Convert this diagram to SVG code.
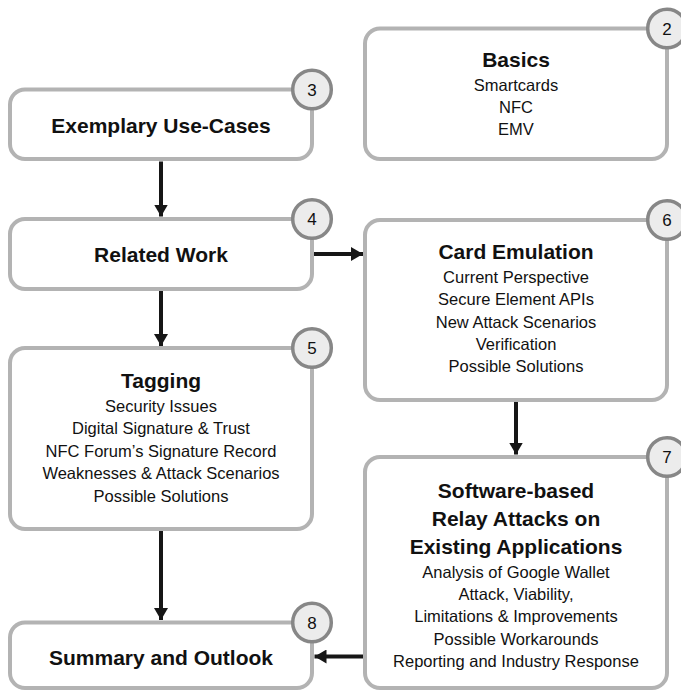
<svg xmlns="http://www.w3.org/2000/svg" width="681" height="690" viewBox="0 0 681 690">
  <style>
    .box { fill: #ffffff; stroke: #b3b3b3; stroke-width: 4; }
    .badge { fill: #ececec; stroke: #878787; stroke-width: 3.5; }
    .num { font-family: "Liberation Sans", Arial, sans-serif; font-size: 17px; fill: #111; text-anchor: middle; }
    .title { font-family: "Liberation Sans", Arial, sans-serif; font-size: 21px; font-weight: bold; fill: #111; text-anchor: middle; }
    .item { font-family: "Liberation Sans", Arial, sans-serif; font-size: 16.5px; fill: #111; text-anchor: middle; }
    .edge { stroke: #161616; stroke-width: 4; fill: none; }
  </style>
  <defs>
    <marker id="head" viewBox="0 0 12 14" refX="12" refY="7" markerUnits="userSpaceOnUse" markerWidth="12" markerHeight="14" orient="auto">
      <path d="M0,0 L12,7 L0,14 Z" fill="#161616"/>
    </marker>
  </defs>

  <!-- chapter 2 -->
  <g id="basics">
    <rect class="box" x="365" y="28.5" width="302" height="130.5" rx="15"/>
    <text class="title" x="516" y="67">Basics</text>
    <text class="item" x="516" y="91">Smartcards</text>
    <text class="item" x="516" y="113">NFC</text>
    <text class="item" x="516" y="135">EMV</text>
    <circle class="badge" cx="667" cy="28.5" r="19.3"/>
    <text class="num" x="667" y="34.5">2</text>
  </g>

  <!-- chapter 3 -->
  <g id="use-cases">
    <rect class="box" x="10" y="89.5" width="302" height="69.5" rx="15"/>
    <text class="title" x="161" y="132.5">Exemplary Use-Cases</text>
    <circle class="badge" cx="312" cy="89.5" r="19.3"/>
    <text class="num" x="312" y="95.5">3</text>
  </g>

  <!-- chapter 4 -->
  <g id="related-work">
    <rect class="box" x="10" y="219" width="302" height="70" rx="15"/>
    <text class="title" x="161" y="261.5">Related Work</text>
    <circle class="badge" cx="312" cy="219" r="19.3"/>
    <text class="num" x="312" y="225">4</text>
  </g>

  <!-- chapter 6 -->
  <g id="card-emulation">
    <rect class="box" x="365" y="220" width="302" height="180" rx="15"/>
    <text class="title" x="516" y="259">Card Emulation</text>
    <text class="item" x="516" y="283">Current Perspective</text>
    <text class="item" x="516" y="305">Secure Element APIs</text>
    <text class="item" x="516" y="327.5">New Attack Scenarios</text>
    <text class="item" x="516" y="350">Verification</text>
    <text class="item" x="516" y="372">Possible Solutions</text>
    <circle class="badge" cx="667" cy="220" r="19.3"/>
    <text class="num" x="667" y="226">6</text>
  </g>

  <!-- chapter 5 -->
  <g id="tagging">
    <rect class="box" x="10" y="348" width="302" height="181" rx="15"/>
    <text class="title" x="161" y="387.5">Tagging</text>
    <text class="item" x="161" y="411.5">Security Issues</text>
    <text class="item" x="161" y="434">Digital Signature &amp; Trust</text>
    <text class="item" x="161" y="457">NFC Forum’s Signature Record</text>
    <text class="item" x="161" y="479">Weaknesses &amp; Attack Scenarios</text>
    <text class="item" x="161" y="501.5">Possible Solutions</text>
    <circle class="badge" cx="312" cy="348" r="19.3"/>
    <text class="num" x="312" y="354">5</text>
  </g>

  <!-- chapter 7 -->
  <g id="relay-attacks">
    <rect class="box" x="365" y="457" width="302" height="231" rx="15"/>
    <text class="title" x="516" y="497.5">Software-based</text>
    <text class="title" x="516" y="526">Relay Attacks on</text>
    <text class="title" x="516" y="553.5">Existing Applications</text>
    <text class="item" x="516" y="577.5">Analysis of Google Wallet</text>
    <text class="item" x="516" y="599.5">Attack, Viability,</text>
    <text class="item" x="516" y="622">Limitations &amp; Improvements</text>
    <text class="item" x="516" y="644.5">Possible Workarounds</text>
    <text class="item" x="516" y="666.5">Reporting and Industry Response</text>
    <circle class="badge" cx="667" cy="457" r="19.3"/>
    <text class="num" x="667" y="463">7</text>
  </g>

  <!-- chapter 8 -->
  <g id="summary">
    <rect class="box" x="10" y="622.5" width="302" height="65.5" rx="15"/>
    <text class="title" x="161" y="665">Summary and Outlook</text>
    <circle class="badge" cx="312" cy="622.5" r="19.3"/>
    <text class="num" x="312" y="628.5">8</text>
  </g>

  <!-- reading order -->
  <g id="connectors">
    <line class="edge" x1="161" y1="161.5" x2="161" y2="216.5" marker-end="url(#head)"/>
    <line class="edge" x1="314" y1="254" x2="363" y2="254" marker-end="url(#head)"/>
    <line class="edge" x1="161" y1="291" x2="161" y2="346" marker-end="url(#head)"/>
    <line class="edge" x1="516" y1="402" x2="516" y2="454.5" marker-end="url(#head)"/>
    <line class="edge" x1="161" y1="531" x2="161" y2="620" marker-end="url(#head)"/>
    <line class="edge" x1="363" y1="656.5" x2="314.5" y2="656.5" marker-end="url(#head)"/>
  </g>
</svg>
